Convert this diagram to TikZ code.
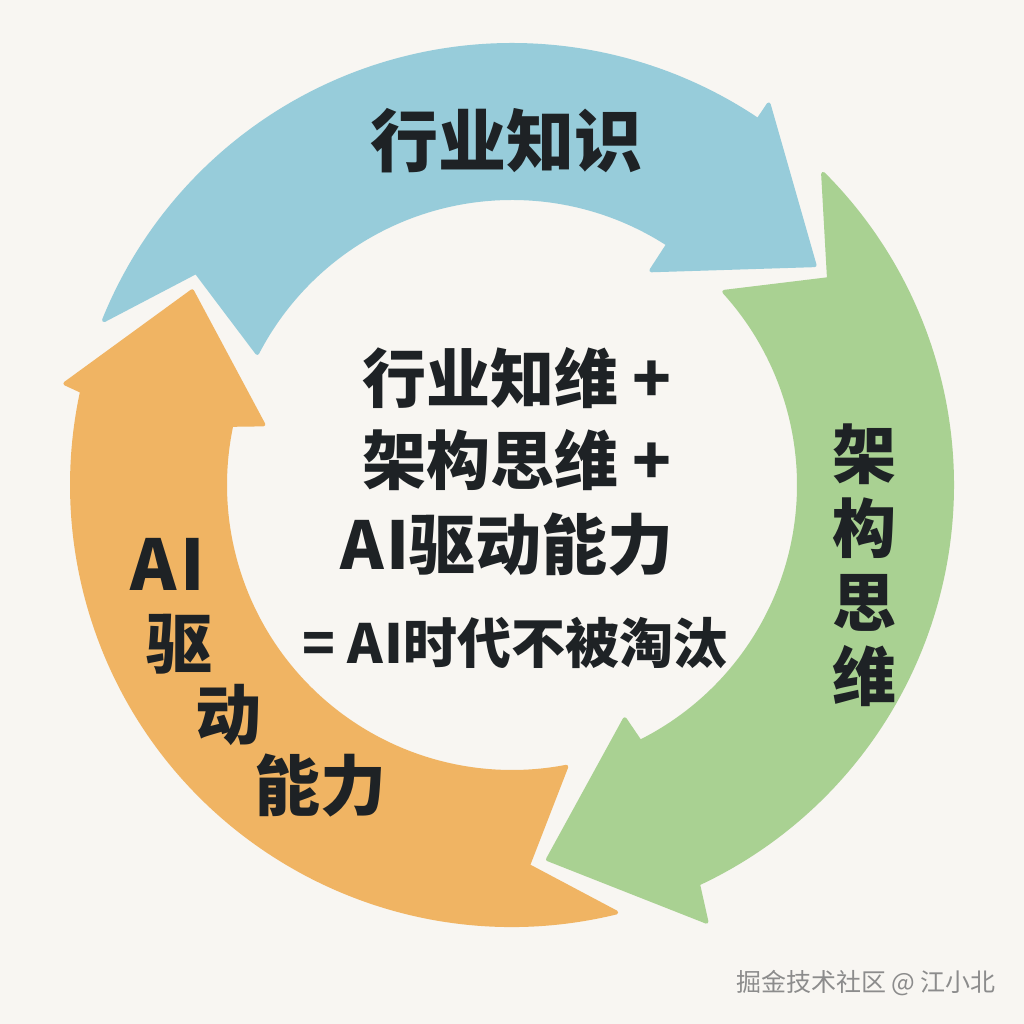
\documentclass[tikz,border=0pt]{standalone}
\usepackage{fontspec}
\setmainfont{Noto Sans CJK SC}
\definecolor{bg}{HTML}{F8F6F2}
\definecolor{cblue}{HTML}{97CCDA}
\definecolor{cgreen}{HTML}{A9D192}
\definecolor{corange}{HTML}{F0B463}
\definecolor{ink}{HTML}{1E2225}
\definecolor{wm}{HTML}{8C8C8C}
\tikzset{
  arrowshape/.style={line width=4pt, line join=round},
  bigtxt/.style={text=ink, inner sep=0pt, font=\fontsize{#1}{#1}\selectfont\bfseries},
}
\begin{document}
\begin{tikzpicture}[x=1pt,y=1pt]
\useasboundingbox (0,0) rectangle (1024,1024);
\fill[bg] (0,0) rectangle (1024,1024);
\coordinate (C) at (512,539);
\begin{scope}[shift={(C)}]
  % blue arrow (top)
  \filldraw[arrowshape, fill=cblue, draw=cblue]
    (158:440pt) arc[start angle=158, end angle=56, radius=440pt]
    -- (56:459pt) -- (36:374pt) -- (57:256pt) -- (57:287pt)
    arc[start angle=57, end angle=152.6, radius=287pt]
    -- (146:381pt) -- cycle;
  % green arrow (right)
  \filldraw[arrowshape, fill=cgreen, draw=cgreen]
    (45:440pt) arc[start angle=45, end angle=-65, radius=440pt]
    -- (-66:478pt) -- (-84.5:376pt) -- (-64.3:260pt) -- (-63.5:287pt)
    arc[start angle=-63.5, end angle=42.3, radius=287pt]
    -- (33:378pt) -- cycle;
  % orange arrow (left)
  \filldraw[arrowshape, fill=corange, draw=corange]
    (-76.3:440pt) arc[start angle=-76.3, end angle=-192.3, radius=440pt]
    -- (-192.8:458pt) -- (-211.2:374pt) -- (-193.7:256pt) -- (-192.1:287pt)
    arc[start angle=-192.1, end angle=-79.1, radius=287pt]
    -- (-87.6:381pt) -- cycle;
\end{scope}
% labels on arrows
\node[bigtxt=68] (hy) at (506,883) {行业知识};
\node[bigtxt=64, align=center, font=\fontsize{64}{74}\selectfont\bfseries] (jg) at (864,459) {架\\构\\思\\维};
\node[bigtxt=70] (ai) at (168,460) {A\kern4pt I};
\node[bigtxt=66] (qu) at (179,380) {驱};
\node[bigtxt=66] (dong) at (228,309) {动};
\node[bigtxt=66] (nl) at (320,238) {能力};
% centre formula
\node[bigtxt=64] (c1) at (517,646) {行业知维 +};
\node[bigtxt=64] (c2) at (517,564) {架构思维 +};
\node[bigtxt=66] (c3) at (507,479) {A\kern3pt I驱动能力};
\node[bigtxt=54] (c4) at (515,381) {= A\kern2pt I时代不被淘汰};
% watermark
\node[text=wm, inner sep=0pt, font=\fontsize{25}{25}\selectfont] (wmk) at (866,41) {掘金技术社区 @ 江小北};
\end{tikzpicture}
\end{document}
